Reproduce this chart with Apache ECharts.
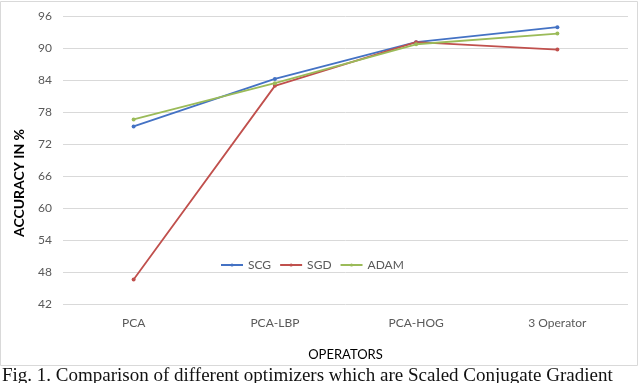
<!DOCTYPE html>
<html>
<head>
<meta charset="utf-8">
<script src="https://cdn.jsdelivr.net/npm/echarts@6/dist/echarts.min.js"></script>
<style>
  html, body { margin: 0; padding: 0; background: #fff; }
  #chart { width: 640px; height: 383px; }
</style>
</head>
<body>
<div id="chart"></div>
<script>
// data
var operators = ['PCA', 'PCA-LBP', 'PCA-HOG', '3 Operator']
var scg = [75.3, 84.2, 91.1, 93.9]
var sgd = [46.6, 82.9, 91.1, 89.7]
var adam = [76.6, 83.4, 90.7, 92.7]

var labelColor = '#595959'
var chart = echarts.init(document.getElementById('chart'))

function line (name, data, color) {
  return {
    name: name,
    type: 'line',
    data: data,
    symbol: 'circle',
    symbolSize: 4,
    lineStyle: { width: 1.8, color: color },
    itemStyle: { color: color }
  }
}

chart.setOption({
  animation: false,
  textStyle: { fontFamily: 'Lato' },
  grid: { left: 63, right: 12, top: 16, bottom: 79 },
  legend: {
    left: 220,
    top: 259,
    padding: 0,
    itemWidth: 22,
    itemHeight: 4,
    itemGap: 8,
    textStyle: { color: labelColor, fontSize: 12, fontFamily: 'Lato' },
    data: ['SCG', 'SGD', 'ADAM']
  },
  xAxis: {
    type: 'category',
    data: operators,
    boundaryGap: true,
    axisLine: { show: false },
    axisTick: { show: false },
    axisLabel: { color: labelColor, fontSize: 12, margin: 13 },
    name: 'OPERATORS',
    nameLocation: 'middle',
    nameGap: 44,
    nameTextStyle: { color: '#000', fontSize: 13, fontFamily: 'Lato' }
  },
  yAxis: {
    type: 'value',
    min: 42,
    max: 96,
    interval: 6,
    axisLine: { show: false },
    axisTick: { show: false },
    axisLabel: { color: labelColor, fontSize: 12, margin: 11 },
    splitLine: { lineStyle: { color: '#d9d9d9', width: 1 } }
  },
  graphic: [
    {
      type: 'rect',
      shape: { x: 0.5, y: 1.5, width: 637, height: 364 },
      style: { fill: null, stroke: '#d9d9d9', lineWidth: 1 },
      silent: true
    },
    {
      // y axis title sits lower than the plot centre in the original
      type: 'text',
      x: 19,
      y: 183,
      rotation: Math.PI / 2,
      style: {
        text: 'ACCURACY IN %',
        font: 'bold 14px Lato',
        fill: '#000',
        align: 'center',
        verticalAlign: 'middle'
      }
    },
    {
      type: 'text',
      left: 2,
      top: 367,
      style: {
        text: 'Fig. 1. Comparison of different optimizers which are Scaled Conjugate Gradient',
        font: '19px "Liberation Serif"',
        fill: '#111'
      }
    }
  ],
  series: [
    line('SCG', scg, '#4472c4'),
    line('SGD', sgd, '#c0504d'),
    line('ADAM', adam, '#9bbb59')
  ]
})
</script>
</body>
</html>
